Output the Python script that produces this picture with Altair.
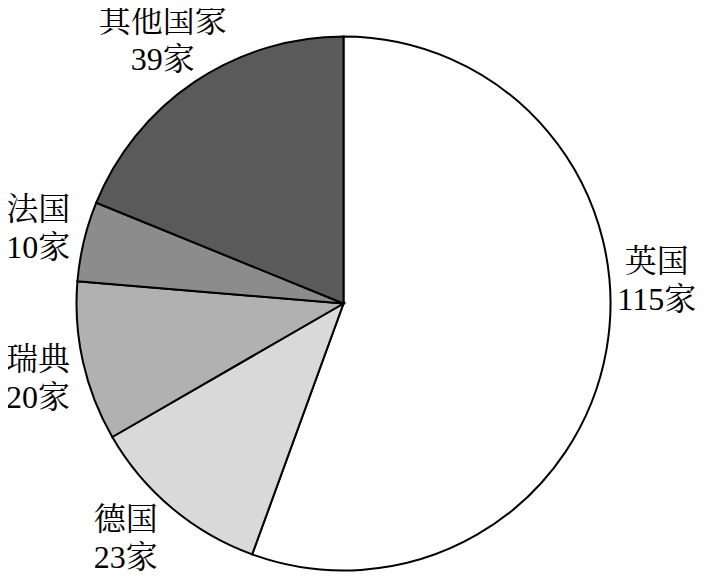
import altair as alt
import pandas as pd

countries = ["英国", "德国", "瑞典", "法国", "其他国家"]
counts = [115, 23, 20, 10, 39]
label_lines = [["英国", "115家"], ["德国", "23家"], ["瑞典", "20家"], ["法国", "10家"], ["其他国家", "39家"]]
fills = ["#ffffff", "#d9d9d9", "#b1b1b1", "#8c8c8c", "#5a5a5a"]

df = pd.DataFrame({
    "country": countries,
    "count": counts,
    "idx": list(range(len(countries))),
    "label": ["\n".join(l) for l in label_lines],
})

CX, CY, R = 335.5, 295.5, 267
FONT = "Liberation Serif, Noto Serif CJK SC, Noto Sans CJK SC"

theta = alt.Theta("count:Q", stack=True)
base = alt.Chart(df).encode(
    theta=theta,
    order=alt.Order("idx:Q"),
    x=alt.value(CX),
    y=alt.value(CY),
)

pie = base.mark_arc(stroke="black", strokeWidth=2, radius=R).encode(
    color=alt.Color("country:N", scale=alt.Scale(domain=countries, range=fills), legend=None)
)

# per-label radius and small offsets (styling only)
label_style = {
    "英国": dict(radius=314, dx=4, dy=-96),
    "德国": dict(radius=320, dx=-12, dy=-29),
    "瑞典": dict(radius=316, dx=3, dy=-12),
    "法国": dict(radius=317, dx=3, dy=-20),
    "其他国家": dict(radius=322, dx=-1, dy=-14),
}

layers = [pie]
for c in countries:
    st = label_style[c]
    layers.append(
        base.mark_text(
            font=FONT, fontSize=32, color="black", align="center", baseline="middle",
            lineBreak="\n", lineHeight=38, **st
        ).encode(
            text=alt.condition(alt.datum.country == c, "label:N", alt.value(""))
        )
    )

chart = alt.layer(*layers).properties(
    width=688, height=564, padding=0, autosize=alt.AutoSizeParams(type="none")
).configure_view(stroke=None)

chart.save("out.html", embed_options={"renderer": "svg", "actions": False})
